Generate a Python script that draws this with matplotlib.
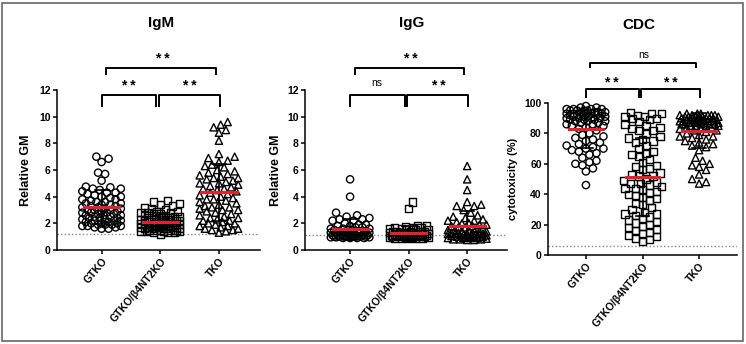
import numpy as np
import matplotlib
matplotlib.use("Agg")
import matplotlib.pyplot as plt
from matplotlib.patches import Rectangle

plt.rcParams['font.family'] = ['Liberation Sans', 'DejaVu Sans']

groups = ["GTKO", "GTKO/\u03b24NT2KO", "TKO"]
markers = ["o", "s", "^"]

# IgM relative GM
igm_gtko = [7.0, 6.85, 6.6, 5.8, 5.7, 5.2, 4.75, 4.7, 4.6, 4.6, 4.5, 4.4, 4.3, 4.3, 4.2,
            4.1, 4.0, 4.0, 3.9, 3.8, 3.8, 3.7, 3.6, 3.6, 3.5, 3.5, 3.4, 3.4, 3.3, 3.3,
            3.2, 3.2, 3.1, 3.1, 3.0, 3.0, 3.0, 2.9, 2.9, 2.8, 2.8, 2.8, 2.7, 2.7, 2.6,
            2.6, 2.6, 2.5, 2.5, 2.4, 2.4, 2.4, 2.3, 2.3, 2.2, 2.2, 2.2, 2.1, 2.1, 2.0,
            2.0, 2.0, 1.9, 1.9, 1.9, 1.8, 1.8, 1.8, 1.7, 1.7, 1.6, 1.6]
igm_b4 = [3.7, 3.6, 3.5, 3.4, 3.3, 3.2, 3.1, 3.0, 2.9, 2.9, 2.8, 2.8, 2.8, 2.7, 2.7,
          2.6, 2.6, 2.5, 2.5, 2.4, 2.4, 2.4, 2.3, 2.3, 2.3, 2.2, 2.2, 2.2, 2.2, 2.1,
          2.1, 2.1, 2.1, 2.0, 2.0, 2.0, 2.0, 1.9, 1.9, 1.9, 1.9, 1.9, 1.8, 1.8, 1.8,
          1.8, 1.8, 1.7, 1.7, 1.7, 1.7, 1.7, 1.6, 1.6, 1.6, 1.6, 1.6, 1.5, 1.5, 1.5,
          1.5, 1.5, 1.4, 1.4, 1.4, 1.4, 1.3, 1.3, 1.3, 1.2]
igm_tko = [9.6, 9.4, 9.2, 9.0, 8.8, 8.2, 7.2, 7.0, 6.9, 6.7, 6.6, 6.4, 6.3, 6.2, 6.0,
           5.9, 5.8, 5.7, 5.6, 5.5, 5.4, 5.3, 5.2, 5.1, 5.0, 5.0, 4.9, 4.8, 4.7, 4.6,
           4.5, 4.4, 4.3, 4.2, 4.1, 4.0, 3.9, 3.8, 3.7, 3.6, 3.5, 3.4, 3.3, 3.2, 3.1,
           3.0, 3.0, 2.9, 2.8, 2.7, 2.6, 2.5, 2.4, 2.3, 2.2, 2.1, 2.0, 1.9, 1.8, 1.7,
           1.6, 1.5, 1.4, 1.3, 1.5, 2.4, 3.2, 4.6, 5.4, 3.8, 1.6, 2.0, 2.2, 1.8]

# IgG relative GM
igg_gtko = [5.3, 4.0, 2.8, 2.6, 2.5, 2.4, 2.3, 2.3, 2.2, 2.2, 2.0, 1.9, 1.9, 1.8, 1.8,
            1.7, 1.7, 1.6, 1.6, 1.6, 1.5, 1.5, 1.5, 1.4, 1.4, 1.4, 1.4, 1.3, 1.3, 1.3,
            1.3, 1.3, 1.2, 1.2, 1.2, 1.2, 1.2, 1.1, 1.1, 1.1, 1.1, 1.1, 1.1, 1.0, 1.0,
            1.0, 1.0, 1.0, 1.0, 0.95, 0.95, 0.9, 0.9, 0.9, 0.9, 1.05, 1.15, 1.25, 0.95, 1.0]
igg_b4 = [3.6, 3.1, 1.8, 1.8, 1.75, 1.7, 1.7, 1.65, 1.6, 1.6, 1.5, 1.5, 1.5, 1.4, 1.4,
          1.4, 1.4, 1.3, 1.3, 1.3, 1.3, 1.3, 1.2, 1.2, 1.2, 1.2, 1.2, 1.2, 1.1, 1.1,
          1.1, 1.1, 1.1, 1.1, 1.1, 1.0, 1.0, 1.0, 1.0, 1.0, 1.0, 1.0, 0.95, 0.95, 0.95,
          0.9, 0.9, 0.9, 0.9, 0.9, 1.05, 1.15, 1.25, 1.35, 0.95]
igg_tko = [6.3, 5.3, 4.5, 3.6, 3.4, 3.3, 3.3, 3.0, 2.8, 2.6, 2.5, 2.4, 2.3, 2.2, 2.2,
           2.1, 2.0, 2.0, 1.9, 1.9, 1.8, 1.8, 1.7, 1.7, 1.6, 1.6, 1.5, 1.5, 1.5, 1.4,
           1.4, 1.4, 1.3, 1.3, 1.3, 1.2, 1.2, 1.2, 1.2, 1.1, 1.1, 1.1, 1.1, 1.0, 1.0,
           1.0, 1.0, 0.9, 0.9, 0.9, 0.9, 0.8, 0.8, 0.8, 0.75, 0.75, 1.05, 1.15, 1.25, 0.85]

# CDC cytotoxicity (%)
cdc_gtko = [98, 97, 97, 96, 96, 96, 95, 95, 95, 94, 94, 94, 94, 93, 93, 93, 93, 92, 92,
            92, 92, 91, 91, 91, 90, 90, 90, 89, 89, 89, 88, 88, 87, 87, 86, 86, 85, 85,
            84, 83, 82, 80, 79, 78, 77, 76, 75, 74, 73, 72, 71, 70, 70, 69, 68, 67, 66,
            64, 62, 61, 60, 59, 57, 55, 46, 93, 95, 90, 88, 96]
cdc_b4 = [94, 93, 93, 92, 91, 90, 90, 89, 88, 86, 85, 84, 83, 82, 80, 78, 77, 76, 74,
          72, 70, 68, 67, 65, 63, 61, 59, 57, 56, 54, 53, 52, 50, 49, 48, 47, 46, 45,
          44, 43, 42, 41, 40, 39, 38, 37, 36, 34, 33, 31, 30, 28, 27, 26, 25, 24, 23,
          22, 21, 20, 19, 18, 17, 16, 15, 14, 13, 12, 11, 10, 9, 27, 44, 91, 82, 75,
          66, 58, 47, 52]
cdc_tko = [93, 93, 92, 92, 92, 91, 91, 91, 91, 90, 90, 90, 90, 89, 89, 89, 89, 88, 88,
           88, 87, 87, 87, 86, 86, 86, 85, 85, 85, 84, 84, 83, 83, 82, 82, 81, 80, 79,
           78, 78, 77, 76, 75, 74, 73, 72, 71, 69, 64, 62, 60, 59, 58, 56, 53, 50, 48,
           47, 90, 88, 86, 92, 91, 90, 89, 88, 87, 86, 85, 93, 92, 91, 90, 89, 88, 87]

W, H = 746, 344


def px_rect(l, r, t, b):
    return [l / W, 1 - b / H, (r - l) / W, (b - t) / H]


def swarm(vals, xs, ys, d=7.0, maxw=20.0):
    # simple beeswarm in pixel space
    vals = np.asarray(vals, float)
    order = np.argsort(vals)
    offs = np.zeros(len(vals))
    placed = []
    step = 1.75
    cands = [0.0]
    k = 1
    while k * step <= maxw:
        cands += [k * step, -k * step]
        k += 1
    for i in order:
        y = vals[i] * ys
        best, bestd = 0.0, -1
        for c in cands:
            if placed:
                p = np.array(placed)
                dist = np.min(np.hypot(p[:, 0] - c, p[:, 1] - y))
            else:
                dist = 1e9
            if dist >= d:
                best = c
                bestd = dist
                break
            if dist > bestd:
                best, bestd = c, dist
        offs[i] = best
        placed.append((best, y))
    return offs / xs


def panel(rect, xlim, ylim, yticks, data, xs, ys, ylabel, ylab_x, lod, tops, labels, ystep, ylsize):
    ax = fig.add_axes(rect)
    for i, vals in enumerate(data):
        x = i + swarm(vals, xs, ys)
        ax.scatter(x, vals, s=27, marker=markers[i], facecolors="none",
                   edgecolors="black", linewidths=1.0, zorder=3, clip_on=False)
        m, sd = np.mean(vals), np.std(vals)
        ax.plot([i, i], [m - sd, m + sd], color="black", lw=1.2, zorder=4)
        for v in (m - sd, m + sd):
            ax.plot([i - 0.12, i + 0.12], [v, v], color="black", lw=1.2, zorder=4)
        ax.plot([i - 0.3, i + 0.3], [m, m], color="#e3202c", lw=2.2, zorder=5)
    ax.axhline(lod, color="#888888", lw=1, ls=(0, (1, 1.6)), zorder=1)
    ax.set_xlim(*xlim)
    ax.set_ylim(*ylim)
    ax.set_yticks(yticks)
    ax.set_xticks(range(3))
    ax.set_xticklabels(groups, rotation=50, ha="right", rotation_mode="anchor",
                       fontsize=7.5, fontweight="bold")
    for t in ax.get_yticklabels():
        t.set_fontsize(7.5)
        t.set_fontweight("bold")
    ax.tick_params(width=1.1, length=3, pad=1.5)
    for s in ("top", "right"):
        ax.spines[s].set_visible(False)
    for s in ("left", "bottom"):
        ax.spines[s].set_linewidth(1.1)
    ax.set_ylabel(ylabel, fontsize=ylsize, fontweight="bold")
    ax.yaxis.set_label_coords(ylab_x, 0.5)

    # significance brackets
    up_y, low_y = tops
    kw = dict(color="black", lw=1.4, clip_on=False, solid_capstyle="butt")
    ax.plot([0.08, 0.08, 1.95, 1.95], [up_y - 0.6 * ystep, up_y, up_y, up_y - 0.6 * ystep], **kw)
    ax.plot([0, 0, 0.93, 0.93], [low_y - ystep, low_y, low_y, low_y - ystep], **kw)
    ax.plot([0.98, 0.98, 2.02, 2.02], [low_y - ystep, low_y, low_y, low_y - ystep], **kw)
    for (xx, yy, lab) in [(1.03, up_y + ystep, labels[0]),
                          (0.45, low_y + ystep, labels[1]),
                          (1.5, low_y + ystep, labels[2])]:
        if lab == "ns":
            ax.text(xx, yy, lab, ha="center", va="center", fontsize=7.5, clip_on=False)
        else:
            ax.text(xx, yy - 0.25 * ystep, "* *", ha="center", va="center", fontsize=10,
                    fontweight="bold", clip_on=False)
    return ax


fig = plt.figure(figsize=(W / 100, H / 100), dpi=100)

panel(px_rect(57, 260, 90, 250), (-0.76, 2.70), (0, 12), range(0, 13, 2),
      [igm_gtko, igm_b4, igm_tko], 58.7, 13.33, "Relative GM", -0.125, 1.2,
      (13.65, 11.63), ["**", "**", "**"], 0.9, 9)
panel(px_rect(305, 507, 90, 250), (-0.77, 2.68), (0, 12), range(0, 13, 2),
      [igg_gtko, igg_b4, igg_tko], 58.5, 13.33, "Relative GM", -0.115, 1.1,
      (13.65, 11.63), ["**", "ns", "**"], 0.9, 9)
panel(px_rect(548, 737, 103, 255), (-0.67, 2.67), (0, 100), range(0, 101, 20),
      [cdc_gtko, cdc_b4, cdc_tko], 56.5, 1.52, "cytotoxicity (%)", -0.16, 6,
      (126, 109), ["ns", "**", "**"], 5.5, 8)

fig.text(161 / W, 1 - 23 / H, "IgM", ha="center", va="center", fontsize=11, fontweight="bold")
fig.text(412 / W, 1 - 23 / H, "IgG", ha="center", va="center", fontsize=11, fontweight="bold")
fig.text(639 / W, 1 - 25 / H, "CDC", ha="center", va="center", fontsize=11, fontweight="bold")

fig.patches.append(Rectangle((2 / W, 3 / H), 741 / W, 338 / H, transform=fig.transFigure,
                             fill=False, edgecolor="#666666", lw=1.2))

fig.savefig("out.png", dpi=100)
